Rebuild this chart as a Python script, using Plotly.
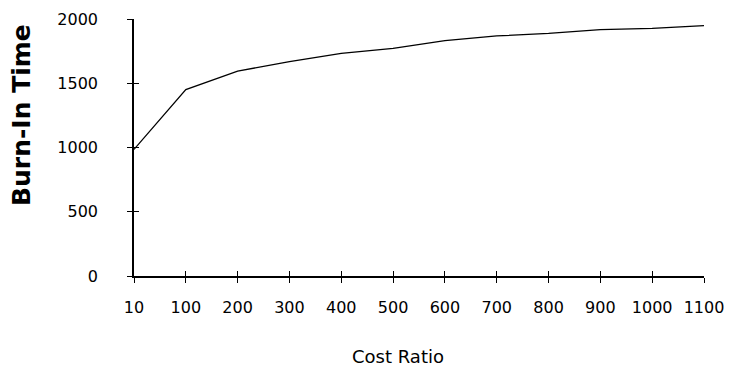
import plotly.graph_objects as go

cost_ratio = ["10", "100", "200", "300", "400", "500", "600", "700", "800", "900", "1000", "1100"]
burn_in_time = [985, 1450, 1595, 1668, 1733, 1772, 1831, 1868, 1888, 1918, 1927, 1948]
y_ticks = [0, 500, 1000, 1500, 2000]
y_tick_labels = ["0", "500", "1000", "1500", "2000"]

tick_font = dict(family="DejaVu Sans, Arial, sans-serif", size=16, color="black")

fig = go.Figure()
fig.add_trace(go.Scatter(x=cost_ratio, y=burn_in_time, mode="lines",
                         line=dict(color="black", width=1.3), showlegend=False))
# invisible copy on the overlay axes that draw the inner half of the crossing ticks
fig.add_trace(go.Scatter(x=cost_ratio, y=burn_in_time, mode="lines", xaxis="x2", yaxis="y2",
                         line=dict(color="rgba(0,0,0,0)", width=0), showlegend=False,
                         hoverinfo="skip"))

common = dict(showline=True, linecolor="black", linewidth=1.5, tickwidth=1.3,
              tickcolor="black", ticklen=5, showgrid=False, zeroline=False, automargin=False)

fig.update_layout(
    width=732, height=369,
    margin=dict(l=126, r=36, t=11, b=101),
    paper_bgcolor="white", plot_bgcolor="white",
    xaxis=dict(type="category", range=[0, 11], ticks="outside", tickfont=tick_font,
               ticklabelstandoff=11, **common),
    yaxis=dict(range=[0, 2000], tickvals=y_ticks, ticktext=y_tick_labels, ticks="outside",
               tickfont=tick_font, ticklabelstandoff=26, **common),
    xaxis2=dict(type="category", overlaying="x", range=[0, 11], ticks="inside",
                showticklabels=False, side="bottom", anchor="y2", **common),
    yaxis2=dict(overlaying="y", range=[0, 2000], tickvals=y_ticks, ticks="inside",
                showticklabels=False, side="left", anchor="x2", **common),
    annotations=[
        dict(text="<b>Burn-In Time</b>", textangle=-90, xref="paper", yref="paper",
             x=-0.1965, y=0.6265, xanchor="center", yanchor="middle", showarrow=False,
             font=dict(family="DejaVu Sans, Arial, sans-serif", size=25, color="black")),
        dict(text="Cost Ratio", xref="paper", yref="paper",
             x=0.463, y=-0.315, xanchor="center", yanchor="middle", showarrow=False,
             font=dict(family="DejaVu Sans, Arial, sans-serif", size=18, color="black")),
    ],
)

fig.write_html("out.html")
